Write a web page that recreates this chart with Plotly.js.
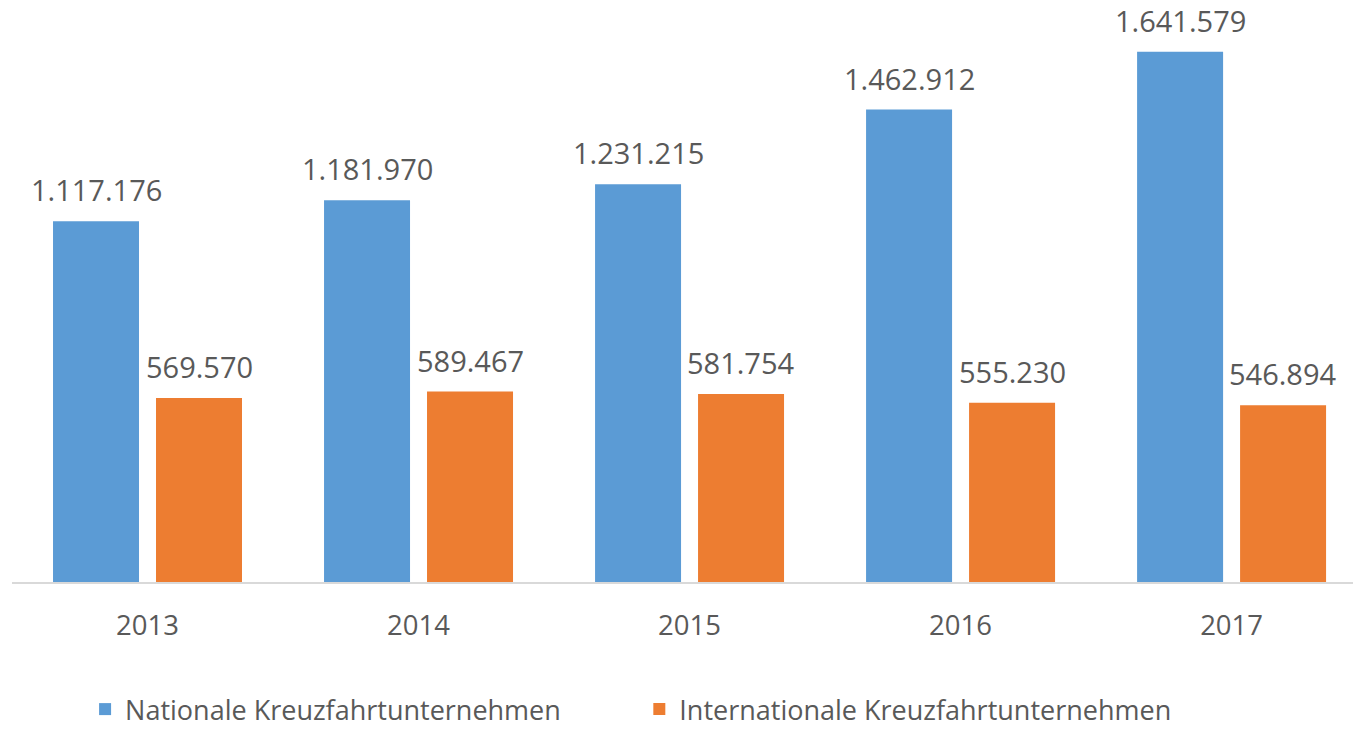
<!DOCTYPE html>
<html>
<head>
<meta charset="utf-8">
<script src="https://cdn.plot.ly/plotly-3.0.1.min.js"></script>
<style>html,body{margin:0;padding:0;background:#fff;}#chart{width:1353px;height:737px;}</style>
</head>
<body>
<div id="chart"></div>
<script>
var years = ['2013', '2014', '2015', '2016', '2017'];
var nationalName = 'Nationale Kreuzfahrtunternehmen';
var internationalName = 'Internationale Kreuzfahrtunternehmen';
var national = [1117176, 1181970, 1231215, 1462912, 1641579];
var international = [569570, 589467, 581754, 555230, 546894];

var FONT = '"Open Sans", "Noto Sans", sans-serif';
var TXT = '#595959';
var BLUE = '#5B9BD5';
var ORANGE = '#ED7D31';

function fmt(v) {
  return String(v).replace(/\B(?=(\d{3})+(?!\d))/g, '.');
}

var traces = [
  {type: 'bar', x: years, y: national, name: nationalName, marker: {color: BLUE}, legend: 'legend', hoverinfo: 'none'},
  {type: 'bar', x: years, y: international, name: internationalName, marker: {color: ORANGE}, legend: 'legend2', hoverinfo: 'none'}
];

var annotations = [];
function addLabels(vals, xshift) {
  for (var i = 0; i < years.length; i++) {
    annotations.push({
      x: i, y: vals[i], xref: 'x', yref: 'y',
      text: fmt(vals[i]), showarrow: false,
      xanchor: 'center', yanchor: 'bottom',
      xshift: xshift, yshift: 10,
      font: {family: FONT, size: 29, color: TXT}
    });
  }
}
addLabels(national, -51.5);
addLabels(international, 51.5);

var layout = {
  width: 1353, height: 737,
  margin: {l: 12, r: 0, t: 20, b: 155},
  paper_bgcolor: '#ffffff', plot_bgcolor: '#ffffff',
  barmode: 'group', bargap: 0.24, bargroupgap: 0.165,
  font: {family: FONT, color: TXT},
  xaxis: {
    type: 'category', range: [-0.5, 4.448],
    showline: true, linecolor: '#D9D9D9', linewidth: 1.5,
    showgrid: false, zeroline: false, ticks: '',
    ticklabelstandoff: 18,
    tickfont: {family: FONT, size: 27.5, color: TXT}
  },
  yaxis: {
    range: [0, 1740000], visible: false, showgrid: false, zeroline: false
  },
  annotations: annotations,
  showlegend: true,
  legend: {
    x: 0.0545, y: 0.004, xref: 'paper', yref: 'container', xanchor: 'left', yanchor: 'bottom',
    orientation: 'h', font: {family: FONT, size: 27, color: TXT}, bgcolor: 'rgba(0,0,0,0)', borderwidth: 0
  },
  legend2: {
    x: 0.4678, y: 0.004, xref: 'paper', yref: 'container', xanchor: 'left', yanchor: 'bottom',
    orientation: 'h', font: {family: FONT, size: 27, color: TXT}, bgcolor: 'rgba(0,0,0,0)', borderwidth: 0
  }
};

Plotly.newPlot('chart', traces, layout, {displayModeBar: false, staticPlot: true});
</script>
</body>
</html>
